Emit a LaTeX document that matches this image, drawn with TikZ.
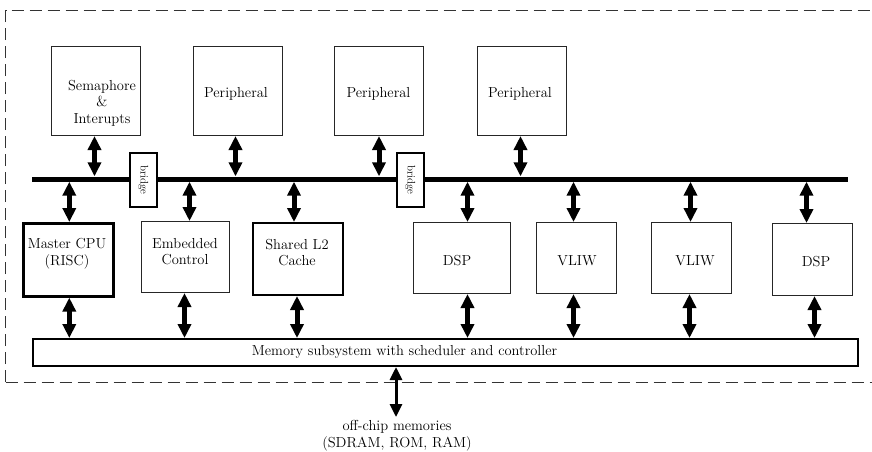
\documentclass[tikz,border=0pt]{standalone}
\usetikzlibrary{arrows.meta}
\begin{document}
\begin{tikzpicture}[x=1pt,y=-1pt,
  box/.style={draw=black!85, line width=1pt, inner sep=0, anchor=north west},
  thickbox/.style={box, draw=black, line width=2.6pt},
  lbl/.style={font=\fontsize{14.5}{16.5}\selectfont, align=center, inner sep=0},
  link/.style={line width=5pt, {Triangle[width=13pt,length=14pt]}-{Triangle[width=13pt,length=14pt]}},
  extlink/.style={line width=3pt, {Triangle[width=12pt,length=13pt]}-{Triangle[width=12pt,length=13pt]}},
  bridgebox/.style={draw=black, line width=1.5pt, fill=white, inner sep=0, anchor=north west,
    minimum width=27pt, minimum height=54pt},
  chip/.style={draw=black!80, line width=1pt, dash pattern=on 12.5pt off 5.5pt}]
\useasboundingbox (0,0) rectangle (872,451);

% chip boundary (open on the right)
\draw[chip] (5.5,382) -- (5.5,10) -- (880,10);
\draw[chip] (5.5,382) -- (880,382);

% system bus
\node[fill=black, inner sep=0, minimum width=816pt, minimum height=5pt, anchor=west] (bus) at (32,179) {};

% upper row
\node[box, minimum width=89pt, minimum height=89pt] (sem) at (51,46) {};
\node[box, minimum width=89pt, minimum height=89pt] (per1) at (193,46) {};
\node[box, minimum width=89pt, minimum height=89pt] (per2) at (334,46) {};
\node[box, minimum width=89pt, minimum height=89pt] (per3) at (477,46) {};
\node[lbl] at (102,103) {Semaphore\\\&\\Interupts};
\node[lbl] at (236,94) {Peripheral};
\node[lbl] at (378.5,94) {Peripheral};
\node[lbl] at (520,94) {Peripheral};

% lower row
\node[thickbox, minimum width=90pt, minimum height=73pt] (cpu) at (22,222) {};
\node[box, minimum width=88pt, minimum height=71pt] (emb) at (141,221) {};
\node[box, draw=black, line width=2pt, minimum width=90pt, minimum height=72pt] (l2) at (252,222) {};
\node[box, minimum width=97pt, minimum height=71pt] (dsp1) at (413,222) {};
\node[box, minimum width=80pt, minimum height=71pt] (vliw1) at (536,222) {};
\node[box, minimum width=80pt, minimum height=71pt] (vliw2) at (651,222) {};
\node[box, minimum width=80pt, minimum height=72pt] (dsp2) at (772,223) {};
\node[lbl] at (67,253.5) {Master CPU\\(RISC)};
\node[lbl] at (185,251.5) {Embedded\\Control};
\node[lbl] at (297,252.5) {Shared L2\\Cache};
\node[lbl] at (457,261) {DSP};
\node[lbl] at (577,261) {VLIW};
\node[lbl] at (695,261) {VLIW};
\node[lbl] at (816,262) {DSP};

% memory subsystem
\node[box, draw=black, line width=2pt, minimum width=825pt, minimum height=27pt] (mem) at (32,338) {};
\node[lbl] at (404.5,352) {Memory subsystem with scheduler and controller};

% bridges on the bus
\node[bridgebox] (br1) at (129,152) {};
\node[bridgebox] (br2) at (396,152) {};
\node[font=\fontsize{11}{12}\selectfont, rotate=-90, inner sep=0] at (br1.center) {bridge};
\node[font=\fontsize{11}{12}\selectfont, rotate=-90, inner sep=0] at (br2.center) {bridge};

% upper links
\draw[link] ([xshift=-1.5pt]sem.south) -- ([xshift=-1.5pt]sem.south |- bus.north);
\draw[link] ([xshift=-2.5pt]per1.south) -- ([xshift=-2.5pt]per1.south |- bus.north);
\draw[link] (per2.south) -- (per2.south |- bus.north);
\draw[link] ([xshift=-1.5pt]per3.south) -- ([xshift=-1.5pt]per3.south |- bus.north);

% bus to lower row
\draw[link] ([xshift=1pt]cpu.north |- bus.south) -- ([xshift=1pt]cpu.north);
\draw[link] ([xshift=4pt]emb.north |- bus.south) -- ([xshift=4pt]emb.north);
\draw[link] ([xshift=-4pt]l2.north |- bus.south) -- ([xshift=-4pt]l2.north);
\draw[link] ([xshift=5.5pt]dsp1.north |- bus.south) -- ([xshift=5.5pt]dsp1.north);
\draw[link] ([xshift=-3pt]vliw1.north |- bus.south) -- ([xshift=-3pt]vliw1.north);
\draw[link] ([xshift=-1pt]vliw2.north |- bus.south) -- ([xshift=-1pt]vliw2.north);
\draw[link] ([xshift=-6pt]dsp2.north |- bus.south) -- ([xshift=-6pt]dsp2.north);

% lower row to memory
\draw[link] ([xshift=1pt]cpu.south) -- ([xshift=1pt]cpu.south |- mem.north);
\draw[link] ([xshift=-1pt]emb.south) -- ([xshift=-1pt]emb.south |- mem.north);
\draw[link] ([xshift=-1pt]l2.south) -- ([xshift=-1pt]l2.south |- mem.north);
\draw[link] ([xshift=5.5pt]dsp1.south) -- ([xshift=5.5pt]dsp1.south |- mem.north);
\draw[link] ([xshift=-3pt]vliw1.south) -- ([xshift=-3pt]vliw1.south |- mem.north);
\draw[link] ([xshift=-2pt]vliw2.south) -- ([xshift=-2pt]vliw2.south |- mem.north);
\draw[link] ([xshift=2pt]dsp2.south) -- ([xshift=2pt]dsp2.south |- mem.north);

% off-chip connection
\coordinate (ext) at (396,417);
\draw[extlink] (mem.south -| ext) -- (ext);
\node[lbl] at (397,435.5) {off-chip memories\\(SDRAM, ROM, RAM)};
\end{tikzpicture}
\end{document}
